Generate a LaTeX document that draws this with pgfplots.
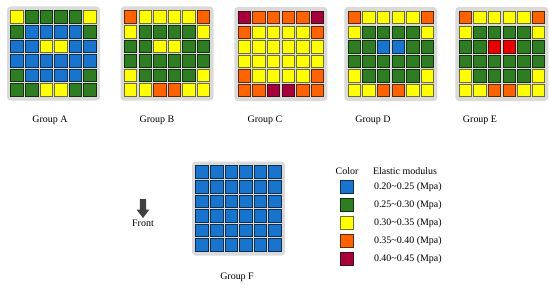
\documentclass[border=0pt]{standalone}
\usepackage{pgfplots}
\pgfplotsset{compat=1.18}
\usepackage{pgfplotstable}
\usepackage{fontspec}
\setmainfont{Liberation Serif}
\definecolor{cB}{HTML}{1874CD}
\definecolor{cBd}{HTML}{0E2E4E}
\definecolor{cG}{HTML}{2E7D22}
\definecolor{cGd}{HTML}{15300F}
\definecolor{cY}{HTML}{FFFF00}
\definecolor{cYd}{HTML}{6E6E30}
\definecolor{cO}{HTML}{FF6300}
\definecolor{cOd}{HTML}{5A2A10}
\definecolor{cR}{HTML}{A8003A}
\definecolor{cRd}{HTML}{40101A}
\definecolor{cE}{HTML}{E80000}
\definecolor{cEd}{HTML}{501010}
\definecolor{bgG}{HTML}{DADADA}
\definecolor{arr}{HTML}{404040}

% columns: c = column, r = row, k = class (B 0.20-0.25, G 0.25-0.30, Y 0.30-0.35, O 0.35-0.40, R 0.40-0.45, E red)
\pgfplotstableread[row sep=\\]{
c r k \\
0 0 Y \\ 1 0 G \\ 2 0 G \\ 3 0 G \\ 4 0 G \\ 5 0 Y \\
0 1 G \\ 1 1 B \\ 2 1 B \\ 3 1 B \\ 4 1 B \\ 5 1 G \\
0 2 B \\ 1 2 B \\ 2 2 Y \\ 3 2 Y \\ 4 2 B \\ 5 2 B \\
0 3 B \\ 1 3 B \\ 2 3 B \\ 3 3 B \\ 4 3 B \\ 5 3 B \\
0 4 G \\ 1 4 B \\ 2 4 B \\ 3 4 B \\ 4 4 B \\ 5 4 G \\
0 5 G \\ 1 5 G \\ 2 5 Y \\ 3 5 Y \\ 4 5 G \\ 5 5 G \\
}\tabA
\pgfplotstableread[row sep=\\]{
c r k \\
0 0 O \\ 1 0 Y \\ 2 0 Y \\ 3 0 Y \\ 4 0 Y \\ 5 0 O \\
0 1 Y \\ 1 1 G \\ 2 1 G \\ 3 1 G \\ 4 1 G \\ 5 1 Y \\
0 2 G \\ 1 2 G \\ 2 2 Y \\ 3 2 Y \\ 4 2 G \\ 5 2 G \\
0 3 G \\ 1 3 G \\ 2 3 G \\ 3 3 G \\ 4 3 G \\ 5 3 G \\
0 4 Y \\ 1 4 G \\ 2 4 G \\ 3 4 G \\ 4 4 G \\ 5 4 Y \\
0 5 Y \\ 1 5 Y \\ 2 5 O \\ 3 5 O \\ 4 5 Y \\ 5 5 Y \\
}\tabB
\pgfplotstableread[row sep=\\]{
c r k \\
0 0 R \\ 1 0 O \\ 2 0 O \\ 3 0 O \\ 4 0 O \\ 5 0 R \\
0 1 O \\ 1 1 Y \\ 2 1 Y \\ 3 1 Y \\ 4 1 Y \\ 5 1 O \\
0 2 Y \\ 1 2 Y \\ 2 2 Y \\ 3 2 Y \\ 4 2 Y \\ 5 2 Y \\
0 3 Y \\ 1 3 Y \\ 2 3 Y \\ 3 3 Y \\ 4 3 Y \\ 5 3 Y \\
0 4 O \\ 1 4 Y \\ 2 4 Y \\ 3 4 Y \\ 4 4 Y \\ 5 4 O \\
0 5 O \\ 1 5 O \\ 2 5 R \\ 3 5 R \\ 4 5 O \\ 5 5 O \\
}\tabC
\pgfplotstableread[row sep=\\]{
c r k \\
0 0 O \\ 1 0 Y \\ 2 0 Y \\ 3 0 Y \\ 4 0 Y \\ 5 0 O \\
0 1 Y \\ 1 1 G \\ 2 1 G \\ 3 1 G \\ 4 1 G \\ 5 1 Y \\
0 2 G \\ 1 2 G \\ 2 2 B \\ 3 2 B \\ 4 2 G \\ 5 2 G \\
0 3 G \\ 1 3 G \\ 2 3 G \\ 3 3 G \\ 4 3 G \\ 5 3 G \\
0 4 Y \\ 1 4 G \\ 2 4 G \\ 3 4 G \\ 4 4 G \\ 5 4 Y \\
0 5 Y \\ 1 5 Y \\ 2 5 O \\ 3 5 O \\ 4 5 Y \\ 5 5 Y \\
}\tabD
\pgfplotstableread[row sep=\\]{
c r k \\
0 0 O \\ 1 0 Y \\ 2 0 Y \\ 3 0 Y \\ 4 0 Y \\ 5 0 O \\
0 1 Y \\ 1 1 G \\ 2 1 G \\ 3 1 G \\ 4 1 G \\ 5 1 Y \\
0 2 G \\ 1 2 G \\ 2 2 E \\ 3 2 E \\ 4 2 G \\ 5 2 G \\
0 3 G \\ 1 3 G \\ 2 3 G \\ 3 3 G \\ 4 3 G \\ 5 3 G \\
0 4 Y \\ 1 4 G \\ 2 4 G \\ 3 4 G \\ 4 4 G \\ 5 4 Y \\
0 5 Y \\ 1 5 Y \\ 2 5 O \\ 3 5 O \\ 4 5 Y \\ 5 5 Y \\
}\tabE
\pgfplotstableread[row sep=\\]{
c r k \\
0 0 B \\ 1 0 B \\ 2 0 B \\ 3 0 B \\ 4 0 B \\ 5 0 B \\
0 1 B \\ 1 1 B \\ 2 1 B \\ 3 1 B \\ 4 1 B \\ 5 1 B \\
0 2 B \\ 1 2 B \\ 2 2 B \\ 3 2 B \\ 4 2 B \\ 5 2 B \\
0 3 B \\ 1 3 B \\ 2 3 B \\ 3 3 B \\ 4 3 B \\ 5 3 B \\
0 4 B \\ 1 4 B \\ 2 4 B \\ 3 4 B \\ 4 4 B \\ 5 4 B \\
0 5 B \\ 1 5 B \\ 2 5 B \\ 3 5 B \\ 4 5 B \\ 5 5 B \\
}\tabF
\pgfplotstableread[row sep=\\]{
c r k \\
0 0 B \\ 0 1 G \\ 0 2 Y \\ 0 3 O \\ 0 4 R \\
}\tabLeg

\newcommand{\cellplot}[3]{%
  \addplot[scatter, only marks, scatter src=explicit symbolic, cellclasses]
    table[x expr=\thisrow{c}*14.6+#2, y expr=\thisrow{r}*14.6+#3, meta=k] {#1};
}
\newcommand{\bgbox}[2]{%
  \fill[bgG, rounded corners=3.5pt] (axis cs:#1-10,#2-10.5) rectangle (axis cs:#1+83,#2+83.5);
}

\begin{document}
\begin{tikzpicture}
\begin{axis}[
  scale only axis, width=550bp, height=287bp,
  xmin=0, xmax=550, ymin=0, ymax=287, y dir=reverse,
  hide axis, clip=false,
  cellclasses/.style={
    mark size=6.3pt,
    scatter/classes={
      B={mark=square*, fill=cB, draw=cBd, line width=0.6pt},
      G={mark=square*, fill=cG, draw=cGd, line width=0.6pt},
      Y={mark=square*, fill=cY, draw=cYd, line width=0.6pt},
      O={mark=square*, fill=cO, draw=cOd, line width=0.6pt},
      R={mark=square*, fill=cR, draw=cRd, line width=0.6pt},
      E={mark=square*, fill=cE, draw=cEd, line width=0.6pt}}},
]
\path (axis cs:0,0) rectangle (axis cs:550,287);
\bgbox{17}{17}
\bgbox{130.5}{17}
\bgbox{244.3}{17.5}
\bgbox{354.3}{17.5}
\bgbox{465.3}{17.5}
\bgbox{202}{172}

\cellplot{\tabA}{17}{17}
\cellplot{\tabB}{130.5}{17}
\cellplot{\tabC}{244.3}{17.5}
\cellplot{\tabD}{354.3}{17.5}
\cellplot{\tabE}{465.3}{17.5}
\cellplot{\tabF}{202}{172}
\addplot[scatter, only marks, scatter src=explicit symbolic, cellclasses]
  table[x expr=\thisrow{c}+347, y expr=\thisrow{r}*18+187, meta=k] {\tabLeg};

\node[font=\fontsize{10}{12}\selectfont] at (axis cs:50,120.7) {Group A};
\node[font=\fontsize{10}{12}\selectfont] at (axis cs:157,120.7) {Group B};
\node[font=\fontsize{10}{12}\selectfont] at (axis cs:265,120.7) {Group C};
\node[font=\fontsize{10}{12}\selectfont] at (axis cs:373,120.7) {Group D};
\node[font=\fontsize{10}{12}\selectfont] at (axis cs:480,120.7) {Group E};
\node[font=\fontsize{10}{12}\selectfont] at (axis cs:237,277) {Group F};

\fill[arr] (axis cs:139.8,199) -- (axis cs:146.2,199) -- (axis cs:146.2,209.5)
  -- (axis cs:149.5,209.5) -- (axis cs:143,218) -- (axis cs:136.5,209.5)
  -- (axis cs:139.8,209.5) -- cycle;
\node[font=\fontsize{10}{12}\selectfont] at (axis cs:143,223.5) {Front};

\node[font=\fontsize{10}{12}\selectfont] at (axis cs:347,171) {Color};
\node[font=\fontsize{10}{12}\selectfont] at (axis cs:405,171) {Elastic modulus};
\node[font=\fontsize{10}{12}\selectfont, anchor=west] at (axis cs:370.5,187) {0.20\textasciitilde 0.25 (Mpa)};
\node[font=\fontsize{10}{12}\selectfont, anchor=west] at (axis cs:370.5,205) {0.25\textasciitilde 0.30 (Mpa)};
\node[font=\fontsize{10}{12}\selectfont, anchor=west] at (axis cs:370.5,223) {0.30\textasciitilde 0.35 (Mpa)};
\node[font=\fontsize{10}{12}\selectfont, anchor=west] at (axis cs:370.5,241) {0.35\textasciitilde 0.40 (Mpa)};
\node[font=\fontsize{10}{12}\selectfont, anchor=west] at (axis cs:370.5,259) {0.40\textasciitilde 0.45 (Mpa)};
\end{axis}
\end{tikzpicture}
\end{document}
